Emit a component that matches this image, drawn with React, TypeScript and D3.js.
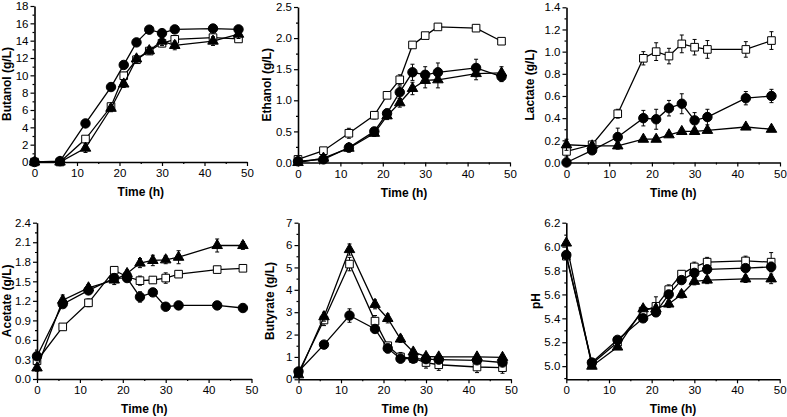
import React, { useEffect, useRef } from "react";
import * as d3 from "d3";

// sampling times (h)
const time = [0, 6, 12, 18, 21, 24, 27, 30, 33, 42, 48];

// Butanol (g/L)
const butanolCircle = [0, 0.1, 4.45, 8.65, 11.2, 13.8, 15.27, 14.87, 15.3, 15.4, 15.3];
const butanolCircleErr = [0, 0, 0.3, 0.3, 0.3, 0.3, 0.3, 0.3, 0.3, 0.3, 0.3];
const butanolSquare = [0, 0, 2.65, 6.4, 9.95, 11.8, 12.8, 13.7, 14.15, 14.35, 14.2];
const butanolSquareErr = [0, 0, 0.3, 0.3, 0.4, 0.3, 0.3, 0.4, 0.4, 0.3, 0.3];
const butanolTriangle = [0, 0, 1.6, 6.2, 9.0, 11.9, 12.85, 13.95, 13.45, 13.95, 14.75];
const butanolTriangleErr = [0, 0, 0.5, 0.4, 0.4, 0.4, 0.4, 0.5, 0.5, 0.5, 0.5];

// Ethanol (g/L)
const ethanolCircle = [0.02, 0.05, 0.24, 0.5, 0.79, 1.13, 1.45, 1.41, 1.45, 1.52, 1.38];
const ethanolCircleErr = [0.01, 0.02, 0.05, 0.05, 0.07, 0.1, 0.13, 0.13, 0.15, 0.14, 0.08];
const ethanolSquare = [0.05, 0.19, 0.47, 0.76, 1.08, 1.33, 1.89, 2.04, 2.18, 2.16, 1.95];
const ethanolSquareErr = [0.02, 0.03, 0.08, 0.06, 0.05, 0.08, 0.04, 0.04, 0.04, 0.04, 0.04];
const ethanolTriangle = [0.0, 0.07, 0.23, 0.47, 0.75, 0.96, 1.19, 1.32, 1.33, 1.43, 1.44];
const ethanolTriangleErr = [0.01, 0.02, 0.06, 0.05, 0.06, 0.07, 0.1, 0.12, 0.13, 0.1, 0.1];

// Lactate (g/L)
const lactateCircle = [0.0, 0.11, 0.23, 0.4, 0.39, 0.49, 0.53, 0.38, 0.41, 0.58, 0.6];
const lactateCircleErr = [0.02, 0.03, 0.08, 0.07, 0.09, 0.07, 0.09, 0.07, 0.07, 0.06, 0.06];
const lactateSquare = [0.1, 0.16, 0.44, 0.94, 1.0, 0.96, 1.07, 1.04, 1.02, 1.02, 1.1];
const lactateSquareErr = [0.05, 0.03, 0.04, 0.06, 0.08, 0.07, 0.08, 0.07, 0.08, 0.07, 0.08];
const lactateTriangle = [0.16, 0.15, 0.15, 0.21, 0.21, 0.25, 0.28, 0.28, 0.29, 0.32, 0.3];
const lactateTriangleErr = [0.05, 0.03, 0.03, 0.02, 0.02, 0.02, 0.02, 0.02, 0.02, 0.02, 0.02];

// Acetate (g/L)
const acetateCircle = [0.35, 1.15, 1.36, 1.55, 1.55, 1.26, 1.33, 1.11, 1.13, 1.13, 1.09];
const acetateCircleErr = [0.03, 0.05, 0.05, 0.06, 0.05, 0.08, 0.05, 0.05, 0.06, 0.06, 0.04];
const acetateSquare = [0.28, 0.8, 1.17, 1.67, 1.57, 1.51, 1.52, 1.55, 1.61, 1.68, 1.7];
const acetateSquareErr = [0.05, 0.05, 0.06, 0.05, 0.06, 0.07, 0.05, 0.08, 0.05, 0.05, 0.03];
const acetateTriangle = [0.17, 1.21, 1.4, 1.52, 1.62, 1.78, 1.82, 1.83, 1.87, 2.05, 2.05];
const acetateTriangleErr = [0.05, 0.08, 0.05, 0.07, 0.05, 0.07, 0.08, 0.06, 0.1, 0.1, 0.06];

// Butyrate (g/L)
const butyrateCircle = [0.35, 1.55, 2.85, 2.25, 1.38, 0.92, 0.92, 0.9, 0.88, 0.85, 0.75];
const butyrateCircleErr = [0.1, 0.12, 0.3, 0.15, 0.2, 0.15, 0.1, 0.1, 0.1, 0.1, 0.1];
const butyrateSquare = [0.3, 2.65, 5.15, 2.6, 1.5, 1.0, 0.93, 0.75, 0.65, 0.55, 0.52];
const butyrateSquareErr = [0.1, 0.25, 0.3, 0.25, 0.15, 0.2, 0.15, 0.25, 0.25, 0.25, 0.25];
const butyrateTriangle = [0.2, 2.8, 5.8, 3.35, 2.72, 1.8, 1.22, 1.02, 1.0, 1.0, 0.98];
const butyrateTriangleErr = [0.1, 0.2, 0.25, 0.2, 0.2, 0.15, 0.1, 0.1, 0.1, 0.1, 0.1];

// pH
const phCircle = [5.93, 5.03, 5.22, 5.4, 5.45, 5.6, 5.72, 5.78, 5.81, 5.82, 5.83];
const phCircleErr = [0.02, 0.02, 0.02, 0.02, 0.03, 0.03, 0.03, 0.03, 0.03, 0.03, 0.04];
const phSquare = [5.92, 5.02, 5.2, 5.46, 5.5, 5.64, 5.77, 5.83, 5.87, 5.88, 5.87];
const phSquareErr = [0.02, 0.02, 0.02, 0.02, 0.08, 0.04, 0.03, 0.04, 0.04, 0.04, 0.08];
const phTriangle = [6.03, 5.0, 5.16, 5.48, 5.48, 5.52, 5.6, 5.71, 5.72, 5.73, 5.73];
const phTriangleErr = [0.02, 0.02, 0.02, 0.02, 0.03, 0.03, 0.03, 0.03, 0.03, 0.03, 0.04];

const xTicks = [0, 10, 20, 30, 40, 50];
const xMinor = [5, 15, 25, 35, 45];

const panels = [
    { label: "Butanol (g/L)", domain: [0, 18], step: 2, fmt: "d",
      circle: [butanolCircle, butanolCircleErr], square: [butanolSquare, butanolSquareErr], triangle: [butanolTriangle, butanolTriangleErr] },
    { label: "Ethanol (g/L)", domain: [0, 2.5], step: 0.5, fmt: ".1f",
      circle: [ethanolCircle, ethanolCircleErr], square: [ethanolSquare, ethanolSquareErr], triangle: [ethanolTriangle, ethanolTriangleErr] },
    { label: "Lactate (g/L)", domain: [0, 1.4], step: 0.2, fmt: ".1f",
      circle: [lactateCircle, lactateCircleErr], square: [lactateSquare, lactateSquareErr], triangle: [lactateTriangle, lactateTriangleErr] },
    { label: "Acetate (g/L)", domain: [0, 2.4], step: 0.3, fmt: ".1f",
      circle: [acetateCircle, acetateCircleErr], square: [acetateSquare, acetateSquareErr], triangle: [acetateTriangle, acetateTriangleErr] },
    { label: "Butyrate (g/L)", domain: [0, 7], step: 1, fmt: "d",
      circle: [butyrateCircle, butyrateCircleErr], square: [butyrateSquare, butyrateSquareErr], triangle: [butyrateTriangle, butyrateTriangleErr] },
    { label: "pH", domain: [4.89, 6.2], step: 0.2, fmt: ".1f", start: 5.0,
      circle: [phCircle, phCircleErr], square: [phSquare, phSquareErr], triangle: [phTriangle, phTriangleErr] },
];

// plot-area frames (left, right, top, bottom) in page pixels
const frames = [
    { l: 34.5, r: 247, t: 6, b: 162, lx: 8 },
    { l: 298, r: 510, t: 7, b: 162.5, lx: 268 },
    { l: 566.5, r: 780, t: 7.3, b: 162.5, lx: 531 },
    { l: 37, r: 251.5, t: 222.7, b: 379, lx: 8 },
    { l: 298.5, r: 511, t: 222.7, b: 379.3, lx: 271 },
    { l: 566.3, r: 779.7, t: 222.7, b: 379.3, lx: 537 },
];

const FONT = "'Liberation Sans', Arial, sans-serif";

const App = () => {
    const svgRef = useRef(null);

    useEffect(() => {
        const svgEl = d3.select(svgRef.current);
        svgEl.selectAll("*").remove();

        panels.forEach((p, i) => {
            const f = frames[i];
            const g = svgEl.append("g");

            const x = d3.scaleLinear().domain([0, 50]).range([f.l, f.r]);
            const y = d3.scaleLinear().domain(p.domain).range([f.b, f.t]);

            // y tick values
            const start = p.start ?? p.domain[0];
            const major = [];
            for (let v = start; v <= p.domain[1] + 1e-9; v += p.step) major.push(+v.toFixed(3));
            const minor = [];
            for (let v = start - p.step / 2; v <= p.domain[1]; v += p.step) {
                if (v >= p.domain[0] - 1e-9) minor.push(+v.toFixed(3));
            }

            // minor ticks
            g.append("g")
                .attr("transform", `translate(${f.l},0)`)
                .call(d3.axisLeft(y).tickValues(minor).tickSize(2).tickFormat(() => ""))
                .call((a) => a.select(".domain").remove());
            g.append("g")
                .attr("transform", `translate(0,${f.b})`)
                .call(d3.axisBottom(x).tickValues(xMinor).tickSize(2).tickFormat(() => ""))
                .call((a) => a.select(".domain").remove());

            // major axes
            const yAxis = g.append("g")
                .attr("transform", `translate(${f.l},0)`)
                .call(d3.axisLeft(y).tickValues(major).tickSize(4).tickSizeOuter(0).tickPadding(2).tickFormat(d3.format(p.fmt)));
            const xAxis = g.append("g")
                .attr("transform", `translate(0,${f.b})`)
                .call(d3.axisBottom(x).tickValues(xTicks).tickSize(4).tickSizeOuter(0).tickPadding(3));

            [yAxis, xAxis].forEach((a) => {
                a.select(".domain").attr("stroke-width", 1.6);
                a.selectAll("text").attr("font-family", FONT).attr("font-size", 11.5).attr("fill", "#000");
            });
            g.selectAll(".tick line").attr("stroke-width", 1.2);

            // axis titles
            g.append("text")
                .attr("x", (f.l + f.r) / 2)
                .attr("y", f.b + 34)
                .attr("text-anchor", "middle")
                .attr("font-family", FONT)
                .attr("font-weight", "bold")
                .attr("font-size", 12)
                .text("Time (h)");
            g.append("text")
                .attr("transform", `translate(${f.lx},${(f.t + f.b) / 2}) rotate(-90)`)
                .attr("text-anchor", "middle")
                .attr("dominant-baseline", "middle")
                .attr("font-family", FONT)
                .attr("font-weight", "bold")
                .attr("font-size", 12)
                .text(p.label);

            const series = [
                { key: "square", vals: p.square },
                { key: "circle", vals: p.circle },
                { key: "triangle", vals: p.triangle },
            ];

            const line = d3.line().x((d) => x(d[0])).y((d) => y(d[1]));

            series.forEach((s) => {
                const pts = time.map((t, j) => [t, s.vals[0][j], s.vals[1][j]]);

                // error bars
                const eb = g.append("g").attr("stroke", "#000").attr("stroke-width", 1);
                pts.forEach((d) => {
                    if (!d[2]) return;
                    const cx = x(d[0]);
                    const y0 = y(d[1] - d[2]);
                    const y1 = y(d[1] + d[2]);
                    eb.append("line").attr("x1", cx).attr("x2", cx).attr("y1", y0).attr("y2", y1);
                    eb.append("line").attr("x1", cx - 2).attr("x2", cx + 2).attr("y1", y0).attr("y2", y0);
                    eb.append("line").attr("x1", cx - 2).attr("x2", cx + 2).attr("y1", y1).attr("y2", y1);
                });

                g.append("path")
                    .datum(pts)
                    .attr("fill", "none")
                    .attr("stroke", "#000")
                    .attr("stroke-width", 1.3)
                    .attr("d", line);

                const sym = s.key === "circle" ? d3.symbolCircle : s.key === "square" ? d3.symbolSquare : d3.symbolTriangle;
                const size = s.key === "circle" ? 70 : s.key === "square" ? 58 : 48;
                g.selectAll(null)
                    .data(pts)
                    .enter()
                    .append("path")
                    .attr("transform", (d) => `translate(${x(d[0])},${y(d[1])})`)
                    .attr("d", d3.symbol().type(sym).size(size))
                    .attr("fill", s.key === "square" ? "#fff" : "#000")
                    .attr("stroke", "#000")
                    .attr("stroke-width", 1);
            });
        });
    }, []);

    return (
        <svg
            ref={svgRef}
            width={787}
            height={417}
            style={{ position: "absolute", left: 0, top: 0, background: "#fff" }}
        />
    );
};

export default App;
